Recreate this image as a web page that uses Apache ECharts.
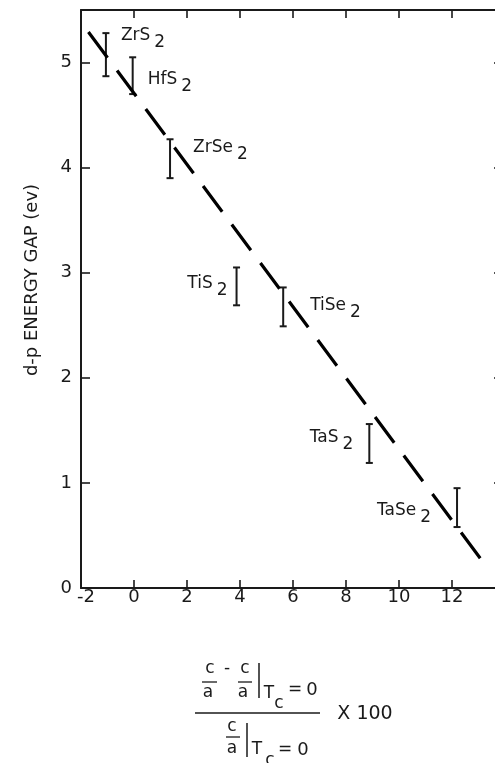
<!DOCTYPE html>
<html>
<head>
<meta charset="utf-8">
<script src="https://cdn.jsdelivr.net/npm/echarts@6/dist/echarts.min.js"></script>
<style>
html,body{margin:0;padding:0;background:#fff;}
#chart{width:495px;height:763px;}
</style>
</head>
<body>
<div id="chart"></div>
<script>
// ---- data ----
const compounds = ['ZrS2', 'HfS2', 'ZrSe2', 'TiS2', 'TiSe2', 'TaS2', 'TaSe2'];
const ratioShift = [-1.06, -0.05, 1.36, 3.87, 5.63, 8.88, 12.19];   // x value of each error bar
const gapLow  = [4.87, 4.70, 3.90, 2.69, 2.49, 1.19, 0.58];        // lower end of bar (eV)
const gapHigh = [5.28, 5.05, 4.27, 3.05, 2.86, 1.56, 0.95];        // upper end of bar (eV)
const fitX = [-1.72, 13.37];                                         // dashed trend line end points
const fitY = [5.29, 0.18];
const xTickLabels = [-2, 0, 2, 4, 6, 8, 10, 12];
const yTickLabels = [0, 1, 2, 3, 4, 5];

// ---- styling (label placement offsets in pixels relative to each bar) ----
const labelPlacement = [
  {side: 'right', dx: 15, dy: -19},
  {side: 'right', dx: 15, dy: 4},
  {side: 'right', dx: 23, dy: -11},
  {side: 'left',  dx: -9, dy: -3},
  {side: 'right', dx: 27, dy: -1},
  {side: 'left',  dx: -16, dy: -6},
  {side: 'left',  dx: -26, dy: 3}
];
const FONT = 'DejaVu Sans';
const FW = 'normal';
const INK = '#1a1a1a';

const chart = echarts.init(document.getElementById('chart'), null, {renderer: 'canvas'});

const barData = compounds.map((c, i) => [ratioShift[i], gapLow[i], gapHigh[i]]);
const fitData = fitX.map((x, i) => [x, fitY[i]]);

const richSub = {
  n: {fontFamily: FONT, fontWeight: FW, fontSize: 17, color: INK, lineHeight: 20},
  s: {fontFamily: FONT, fontWeight: FW, fontSize: 17, color: INK, lineHeight: 20, padding: [14, 0, 0, 4]}
};

function txt(text, x, y, size, extra) {
  return Object.assign({
    type: 'text', x: x, y: y,
    style: {text: text, fontFamily: FONT, fontWeight: FW, fontSize: size || 17, fill: INK, align: 'center', verticalAlign: 'middle'}
  }, extra || {});
}
function ln(x1, y1, x2, y2, w) {
  return {type: 'line', shape: {x1: x1, y1: y1, x2: x2, y2: y2}, style: {stroke: INK, lineWidth: w || 1.3}};
}

const option = {
  backgroundColor: '#fff',
  animation: false,
  grid: {left: 81, top: 10, width: 424, height: 578, containLabel: false, outerBoundsMode: 'none'},
  xAxis: [
    {
      type: 'value', position: 'bottom', min: -2, max: 14, interval: 2,
      axisLine: {show: true, onZero: false, lineStyle: {color: INK, width: 2}},
      axisTick: {show: true, inside: true, length: 8, lineStyle: {color: INK, width: 1.6}},
      splitLine: {show: false},
      axisLabel: {
        show: true, margin: 0, color: INK, fontFamily: FONT, fontWeight: FW, fontSize: 18,
        formatter: v => (xTickLabels.indexOf(v) < 0 ? '' : (v === -2 ? '{m|-2}' : String(v))),
        rich: {m: {fontFamily: FONT, fontWeight: FW, fontSize: 18, color: INK, padding: [0, 0, 0, 10]}}
      }
    },
    {
      type: 'value', position: 'top', min: -2, max: 14, interval: 2,
      axisLine: {show: true, onZero: false, lineStyle: {color: INK, width: 2}},
      axisTick: {show: true, inside: true, length: 8, lineStyle: {color: INK, width: 1.6}},
      splitLine: {show: false},
      axisLabel: {show: false}
    }
  ],
  yAxis: [
    {
      type: 'value', position: 'left', min: 0, max: 5.5, interval: 1,
      axisLine: {show: true, onZero: false, lineStyle: {color: INK, width: 2}},
      axisTick: {show: true, inside: true, length: 9, lineStyle: {color: INK, width: 1.6}},
      splitLine: {show: false},
      axisLabel: {
        show: true, margin: 9, color: INK, fontFamily: FONT, fontWeight: FW, fontSize: 18,
        formatter: v => (yTickLabels.indexOf(v) < 0 ? '' : String(v))
      }
    },
    {
      type: 'value', position: 'right', min: 0, max: 5.5, interval: 1,
      axisLine: {show: true, onZero: false, lineStyle: {color: INK, width: 2}},
      axisTick: {show: true, inside: true, length: 11, lineStyle: {color: INK, width: 1.6}},
      splitLine: {show: false},
      axisLabel: {show: false}
    }
  ],
  series: [
    {
      type: 'line',
      xAxisIndex: 0, yAxisIndex: 0,
      data: fitData,
      symbol: 'none',
      silent: true,
      lineStyle: {color: '#000', width: 3.2, type: [32, 16], cap: 'butt'}
    },
    {
      type: 'custom',
      xAxisIndex: 0, yAxisIndex: 0,
      data: barData,
      encode: {x: 0, y: [1, 2]},
      clip: false,
      renderItem: function (params, api) {
        const i = params.dataIndex;
        const x = api.value(0), lo = api.value(1), hi = api.value(2);
        const pTop = api.coord([x, hi]);
        const pBot = api.coord([x, lo]);
        const cap = 3.5;
        const place = labelPlacement[i];
        const midY = (pTop[1] + pBot[1]) / 2;
        const name = compounds[i];
        const base = name.slice(0, -1), sub = name.slice(-1);
        const st = {stroke: INK, lineWidth: 2};
        return {
          type: 'group',
          children: [
            {type: 'line', shape: {x1: pTop[0], y1: pTop[1], x2: pBot[0], y2: pBot[1]}, style: st},
            {type: 'line', shape: {x1: pTop[0] - cap, y1: pTop[1], x2: pTop[0] + cap, y2: pTop[1]}, style: st},
            {type: 'line', shape: {x1: pBot[0] - cap, y1: pBot[1], x2: pBot[0] + cap, y2: pBot[1]}, style: st},
            {
              type: 'text',
              x: pTop[0] + place.dx,
              y: midY + place.dy,
              style: {
                text: '{n|' + base + '}{s|' + sub + '}',
                rich: richSub,
                fontFamily: FONT, fontWeight: FW, fontSize: 17, fill: INK,
                align: place.side === 'left' ? 'right' : 'left',
                verticalAlign: 'middle'
              }
            }
          ]
        };
      }
    }
  ],
  graphic: [
    // y-axis title
    txt('d-p ENERGY GAP (ev)', 32, 280, 18, {rotation: Math.PI / 2}),
    // x-axis title: fraction expression
    txt('c', 210, 669, 17), ln(202, 682, 217, 682), txt('a', 208, 693, 17),
    txt('-', 227, 669, 17),
    txt('c', 245, 669, 17), ln(238, 682, 252, 682), txt('a', 243, 693, 17),
    ln(259, 663, 259, 698, 1.5),
    txt('T', 269, 694, 17), txt('c', 279, 704, 17),
    txt('=', 295, 690, 17), txt('0', 312, 690, 18),
    ln(195, 713, 320, 713, 1.3),
    txt('X 100', 365, 714, 19),
    txt('c', 232, 727, 17), ln(226, 737, 240, 737), txt('a', 232, 749, 17),
    ln(247, 723, 247, 757, 1.5),
    txt('T', 257, 750, 17), txt('c', 270, 761, 17),
    txt('=', 285, 750, 17), txt('0', 303, 750, 18)
  ]
};

chart.setOption(option);
</script>
</body>
</html>
